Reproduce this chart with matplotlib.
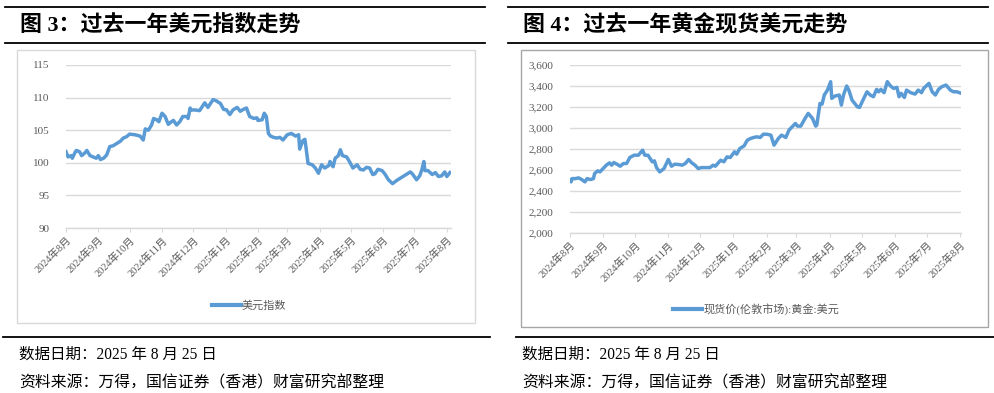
import matplotlib
matplotlib.use("Agg")
import matplotlib.pyplot as plt
from matplotlib.lines import Line2D
from matplotlib.patches import Rectangle
import pandas as pd

plt.rcParams['font.family'] = ['Liberation Serif', 'Noto Sans CJK SC']

# ---------------- data ----------------
start_date = "2024-08-25"
tick_dates = ["2024-08-25", "2024-09-25", "2024-10-25", "2024-11-25", "2024-12-25",
              "2025-01-25", "2025-02-25", "2025-03-25", "2025-04-25", "2025-05-25",
              "2025-06-25", "2025-07-25", "2025-08-25"]
tick_labels = ["2024年8月", "2024年9月", "2024年10月", "2024年11月", "2024年12月",
               "2025年1月", "2025年2月", "2025年3月", "2025年4月", "2025年5月",
               "2025年6月", "2025年7月", "2025年8月"]

# US dollar index (days after start_date, value)
dxy_days = [0, 2, 5, 6, 9, 10, 13, 15, 18, 20, 23, 26, 29, 31, 33, 36, 39, 42, 45, 49,
            52, 55, 58, 61, 66, 71, 74, 76, 79, 82, 84, 87, 89, 92, 95, 98, 101, 103, 106, 109,
            112, 116, 117, 119, 120, 124, 128, 133, 136, 141, 144, 148, 151, 154, 157, 160, 164, 167, 170, 173,
            176, 180, 183, 184, 188, 190, 192, 194, 196, 199, 202, 205, 208, 212, 216, 220, 223, 224, 227, 229,
            232, 236, 239, 242, 245, 248, 252, 253, 256, 258, 261, 263, 265, 269, 272, 275, 279, 282, 285, 288,
            291, 294, 296, 299, 303, 306, 309, 313, 317, 320, 323, 327, 330, 332, 336, 339, 341, 343, 344, 347,
            351, 354, 357, 360, 363, 365, 368]
dxy_vals = [101.7, 100.9, 101.1, 100.7, 101.7, 101.9, 101.7, 101.1, 101.5, 101.9, 101.1, 100.9, 100.7, 101.1, 100.5, 100.7, 101.2, 102.5, 102.6, 103.0,
            103.3, 103.8, 104.0, 104.4, 104.3, 104.1, 103.5, 105.2, 105.0, 105.8, 106.8, 106.6, 106.3, 107.6, 107.1, 105.9, 106.3, 106.5, 105.8, 106.3,
            107.1, 107.1, 106.8, 108.4, 108.1, 108.1, 108.0, 109.2, 108.5, 109.7, 109.5, 109.1, 108.2, 108.1, 107.4, 108.1, 108.5, 107.9, 108.2, 108.4,
            107.1, 106.8, 106.9, 106.5, 106.6, 107.6, 107.1, 104.5, 104.1, 103.9, 103.8, 103.9, 103.5, 104.3, 104.5, 104.1, 104.3, 102.1, 103.4, 103.6,
            99.9, 99.7, 99.2, 98.4, 99.7, 99.2, 99.6, 100.2, 99.4, 100.7, 101.1, 102.0, 101.1, 100.9, 100.1, 99.2, 99.7, 99.0, 98.9, 99.3,
            99.2, 98.2, 98.3, 99.0, 98.8, 98.2, 97.4, 96.8, 97.3, 97.6, 97.9, 98.3, 98.6, 98.3, 97.4, 98.0, 98.9, 100.2, 98.8, 98.8,
            98.2, 98.5, 97.9, 98.0, 98.6, 97.9, 98.5]

# Spot gold, London (USD)
gold_days = [0, 1, 2, 5, 8, 11, 14, 16, 19, 22, 23, 26, 28, 31, 34, 37, 39, 41, 44, 47,
             50, 53, 56, 60, 64, 68, 70, 73, 77, 79, 81, 84, 88, 92, 95, 98, 102, 105, 108, 111,
             114, 117, 120, 123, 128, 131, 134, 136, 141, 144, 147, 150, 154, 156, 159, 163, 166, 169, 172, 175,
             178, 181, 184, 188, 191, 195, 198, 202, 205, 208, 211, 213, 216, 220, 223, 227, 230, 231, 234, 236,
             238, 241, 244, 245, 248, 252, 254, 256, 259, 261, 264, 269, 271, 275, 278, 281, 284, 287, 289, 291,
             294, 297, 300, 303, 306, 308, 310, 313, 315, 319, 323, 326, 329, 331, 336, 339, 342, 345, 348, 352,
             356, 359, 362, 365]
gold_vals = [2500, 2487, 2518, 2518, 2525, 2509, 2487, 2518, 2509, 2518, 2566, 2592, 2582, 2614, 2646, 2668, 2646, 2671, 2655, 2636,
             2662, 2662, 2719, 2741, 2741, 2789, 2741, 2741, 2678, 2687, 2623, 2582, 2614, 2700, 2636, 2655, 2652, 2646, 2662, 2700,
             2668, 2646, 2614, 2623, 2623, 2623, 2646, 2636, 2693, 2678, 2725, 2719, 2773, 2751, 2805, 2830, 2884, 2900, 2910, 2916,
             2910, 2941, 2941, 2932, 2837, 2900, 2932, 2910, 2980, 3012, 3043, 3018, 3018, 3091, 3139, 3091, 3018, 3027, 3234, 3228,
             3314, 3361, 3441, 3282, 3304, 3314, 3218, 3314, 3400, 3361, 3266, 3202, 3196, 3282, 3345, 3314, 3298, 3368, 3345, 3368,
             3336, 3441, 3400, 3377, 3387, 3298, 3330, 3291, 3361, 3336, 3323, 3361, 3336, 3377, 3425, 3345, 3314, 3368, 3393, 3409,
             3361, 3345, 3345, 3335]

titles = ["图 3：过去一年美元指数走势", "图 4：过去一年黄金现货美元走势"]
legend_labels = ["美元指数", "现货价(伦敦市场):黄金:美元"]
note_date = "数据日期：2025 年 8 月 25 日"
note_src = "资料来源：万得，国信证券（香港）财富研究部整理"

# ---------------- figure ----------------
W, H = 995, 393
fig = plt.figure(figsize=(W / 100, H / 100), dpi=100)

def fx(px):
    return px / W

def fy(py):
    return 1 - py / H

LINE_C = "#5B9BD5"
GRID_C = "#D9D9D9"
TXT_C = "#595959"

def rule(x0, x1, y):
    fig.add_artist(Line2D([fx(x0), fx(x1)], [fy(y), fy(y)], color="black", lw=1.3,
                          transform=fig.transFigure))

# header rules + titles
for (x0, x1, tx), title in zip([(5, 485, 20), (508, 988, 523)], titles):
    rule(x0, x1, 7)
    rule(x0, x1, 43)
    fig.text(fx(tx), fy(26), title, fontsize=15.8, fontweight="bold",
             family=['Liberation Serif', 'Noto Sans CJK SC'], va="center", ha="left", color="black")

# chart boxes
fig.add_artist(Rectangle((fx(17), fy(323)), fx(475) - fx(17), fy(50) - fy(323),
                         transform=fig.transFigure, fill=False, ec="#D9D9D9", lw=1.0))
fig.add_artist(Rectangle((fx(521), fy(327)), fx(988) - fx(521), fy(50) - fy(327),
                         transform=fig.transFigure, fill=False, ec="#A6A6A6", lw=1.0))

# footer
for (x0, x1, tx) in [(3, 490, 19), (516, 995, 522)]:
    rule(x0, x1, 337)
    fig.text(fx(tx), fy(355), note_date, fontsize=11.2, va="center", ha="left")
    fig.text(fx(tx), fy(383), note_src, fontsize=11.4, va="center", ha="left")

t0 = pd.Timestamp(start_date)
ticks = pd.to_datetime(tick_dates)

def make_ax(rect, days, vals, ylim, ystep, xmax_days, fmt, leg_label, leg_pos):
    ax = fig.add_axes(rect)
    x = t0 + pd.to_timedelta(days, unit="D")
    ax.plot(x, vals, color=LINE_C, lw=2.5, solid_joinstyle="round", label=leg_label)
    ax.set_xlim(t0, t0 + pd.Timedelta(days=xmax_days))
    ax.set_ylim(*ylim)
    yt = list(range(ylim[0], ylim[1] + 1, ystep))
    ax.set_yticks(yt)
    ax.set_yticklabels([fmt(v) for v in yt])
    ax.set_xticks(ticks)
    ax.set_xticklabels(tick_labels, rotation=45, ha="right", va="top",
                       rotation_mode="anchor")
    for s in ["top", "right", "left"]:
        ax.spines[s].set_visible(False)
    ax.spines["bottom"].set_color(GRID_C)
    ax.spines["bottom"].set_linewidth(1.0)
    ax.grid(axis="y", color=GRID_C, lw=1.0)
    ax.set_axisbelow(True)
    ax.tick_params(axis="y", length=0, pad=12, labelsize=8, labelcolor=TXT_C)
    ax.tick_params(axis="x", length=3, width=0.8, color=GRID_C, pad=2,
                   labelsize=7.5, labelcolor=TXT_C)
    ax.patch.set_alpha(0)
    leg = ax.legend(loc="center", bbox_to_anchor=leg_pos, bbox_transform=fig.transFigure,
                    frameon=False, handlelength=2.6, handletextpad=0.1,
                    prop={"family": ['Liberation Serif', 'Noto Sans CJK SC'], "size": 8})
    for t in leg.get_texts():
        t.set_color(TXT_C)
    for h in leg.get_lines():
        h.set_linewidth(3)
    return ax

make_ax([fx(66), fy(228), fx(451) - fx(66), fy(65) - fy(228)], dxy_days, dxy_vals,
        (90, 115), 5, 369, lambda v: f"{v}", legend_labels[0], (fx(249), fy(306)))
make_ax([fx(570), fy(233), fx(961) - fx(570), fy(65) - fy(233)], gold_days, gold_vals,
        (2000, 3600), 200, 366, lambda v: f"{v:,}", legend_labels[1], (fx(756), fy(309)))

fig.savefig("out.png", dpi=100)
